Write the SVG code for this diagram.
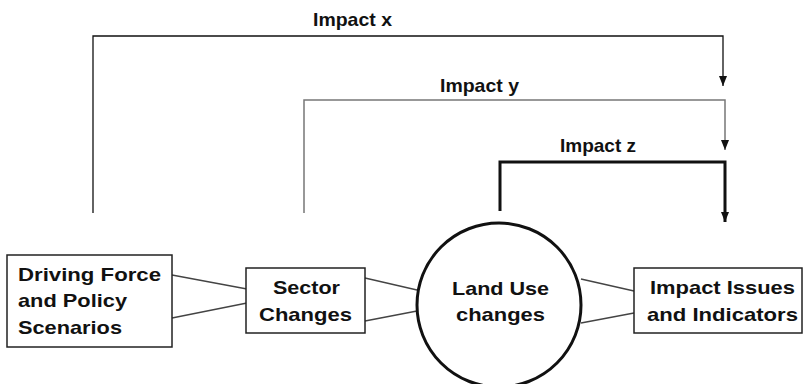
<svg xmlns="http://www.w3.org/2000/svg" width="804" height="384" viewBox="0 0 804 384">
<style>
text{font-family:"Liberation Sans",Arial,sans-serif;font-weight:bold;fill:#111;}
.n{font-size:18.5px;text-anchor:middle;}
.l{font-size:19px;}
.box{fill:#fff;stroke:#222;stroke-width:1.5;}
.link{stroke:#444;stroke-width:1.3;fill:none;}
</style>
<defs>
<marker id="ah" markerUnits="userSpaceOnUse" markerWidth="10" markerHeight="10" viewBox="0 0 10 10" refX="10" refY="5" orient="auto">
<path d="M0,1 L10,5 L0,9 Z" fill="#111"/>
</marker>
</defs>
<rect width="804" height="384" fill="#fff"/>
<g id="connectors">
<line class="link" x1="172" y1="275" x2="247" y2="289"/>
<line class="link" x1="172" y1="318" x2="247" y2="303"/>
<line class="link" x1="365" y1="278" x2="417" y2="290"/>
<line class="link" x1="365" y1="321" x2="417" y2="311"/>
<line class="link" x1="581" y1="279" x2="634" y2="291"/>
<line class="link" x1="581" y1="323" x2="634" y2="313"/>
<polyline points="93,213 93,36 723,36 723,86" fill="none" stroke="#111" stroke-width="1.3" marker-end="url(#ah)"/>
<polyline points="304,213 304,100 725,100 725,150" fill="none" stroke="#777" stroke-width="1.5" marker-end="url(#ah)"/>
<polyline points="500,211 500,162 725,162 725,222" fill="none" stroke="#111" stroke-width="3" marker-end="url(#ah)"/>
<text class="l" x="313" y="26" textLength="79" lengthAdjust="spacingAndGlyphs">Impact x</text>
<text class="l" x="440" y="92" textLength="79" lengthAdjust="spacingAndGlyphs">Impact y</text>
<text class="l" x="560" y="152" textLength="76" lengthAdjust="spacingAndGlyphs">Impact z</text>
</g>
<g id="driving">
<rect class="box" x="7" y="255" width="165" height="92" stroke="#555"/>
<text x="18" y="281" font-size="18.5" textLength="143" lengthAdjust="spacingAndGlyphs">Driving Force</text>
<text x="18" y="307" font-size="18.5" textLength="109" lengthAdjust="spacingAndGlyphs">and Policy</text>
<text x="18" y="334" font-size="18.5" textLength="104" lengthAdjust="spacingAndGlyphs">Scenarios</text>
</g>
<g id="sector">
<rect class="box" x="246" y="268" width="119" height="65"/>
<text x="273" y="294" font-size="18.5" textLength="67" lengthAdjust="spacingAndGlyphs">Sector</text>
<text x="259" y="321" font-size="18.5" textLength="93" lengthAdjust="spacingAndGlyphs">Changes</text>
</g>
<g id="landuse">
<circle cx="499" cy="305" r="82" fill="#fff" stroke="#111" stroke-width="3"/>
<text x="452" y="295" font-size="18.5" textLength="97" lengthAdjust="spacingAndGlyphs">Land Use</text>
<text x="456" y="321" font-size="18.5" textLength="89" lengthAdjust="spacingAndGlyphs">changes</text>
</g>
<g id="impact">
<rect class="box" x="634" y="268" width="168" height="65"/>
<text x="650" y="294" font-size="18.5" textLength="145" lengthAdjust="spacingAndGlyphs">Impact Issues</text>
<text x="647" y="321" font-size="18.5" textLength="151" lengthAdjust="spacingAndGlyphs">and Indicators</text>
</g>
</svg>
